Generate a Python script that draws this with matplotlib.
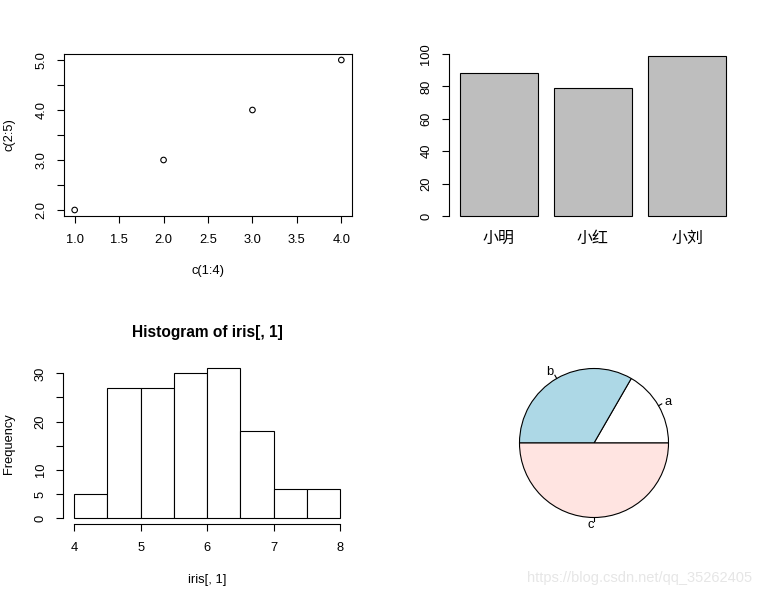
import matplotlib
matplotlib.use('Agg')
import matplotlib.pyplot as plt
import numpy as np

plt.rcParams['font.family'] = ['Liberation Sans', 'Noto Sans CJK SC', 'DejaVu Sans']
plt.rcParams['axes.linewidth'] = 0.8

# data
scatter_x = [1, 2, 3, 4]
scatter_y = [2, 3, 4, 5]

bar_names = ['小明', '小红', '小刘']
bar_values = [88, 79, 99]

hist_edges = [4.0, 4.5, 5.0, 5.5, 6.0, 6.5, 7.0, 7.5, 8.0]
hist_counts = [5, 27, 27, 30, 31, 18, 6, 6]

pie_values = [1, 2, 3]
pie_labels = ['a', 'b', 'c']
pie_colors = ['white', '#ADD8E6', '#FFE4E1']

W, H = 762, 596
fig = plt.figure(figsize=(W / 100, H / 100), dpi=100)


def px_axes(x0, y0, x1, y1):
    # pixel box (top-left origin) -> figure axes
    return fig.add_axes([x0 / W, 1 - y1 / H, (x1 - x0) / W, (y1 - y0) / H])


fs = 9.3
tick_kw = dict(direction='out', length=5, width=0.8, labelsize=fs, pad=8)

# ---- panel 1: scatter
ax1 = px_axes(64, 54, 352, 216)
ax1.scatter(scatter_x, scatter_y, s=16, facecolors='none', edgecolors='black', linewidths=0.8)
ax1.set_xlim(0.88, 4.12)
ax1.set_ylim(1.88, 5.12)
ax1.set_xticks(np.arange(1.0, 4.01, 0.5))
ax1.set_xticklabels(['1.0', '1.5', '2.0', '2.5', '3.0', '3.5', '4.0'])
yt = np.arange(2.0, 5.01, 0.5)
ax1.set_yticks(yt)
ax1.set_yticklabels(['2.0', '', '3.0', '', '4.0', '', '5.0'])
ax1.tick_params(**tick_kw)
ax1.tick_params(axis='y', labelrotation=90, pad=7)
for t in ax1.get_yticklabels():
    t.set_va('center')
ax1.set_xlabel('c(1:4)', fontsize=fs, labelpad=14)
ax1.set_ylabel('c(2:5)', fontsize=fs, labelpad=14)

# ---- panel 2: barplot
ax2 = px_axes(449, 54, 737, 216)
bar_x = 0.2 + np.arange(len(bar_values)) * 1.2
ax2.bar(bar_x, bar_values, width=1.0, align='edge', color='#BEBEBE',
        edgecolor='black', linewidth=0.8)
ax2.set_xlim(0.2 - 0.136, 3.6 + 0.136)
ax2.set_ylim(0, 100)
ax2.set_yticks([0, 20, 40, 60, 80, 100])
ax2.set_xticks(bar_x + 0.5)
ax2.set_xticklabels(bar_names)
ax2.tick_params(**tick_kw)
ax2.tick_params(axis='x', length=0, pad=11, labelsize=11.5)
ax2.tick_params(axis='y', labelrotation=90, pad=7)
for t in ax2.get_yticklabels():
    t.set_va('center')
for s in ['top', 'right', 'bottom']:
    ax2.spines[s].set_visible(False)
ax2.spines['left'].set_bounds(0, 100)
for b in ax2.patches:
    b.set_clip_on(False)

# ---- panel 3: histogram
ax3 = px_axes(63.4, 362.5, 351, 524.3)
ax3.hist(hist_edges[:-1], bins=hist_edges, weights=hist_counts,
         color='white', edgecolor='black', linewidth=0.8)
ax3.set_xlim(3.84, 8.16)
ax3.set_ylim(-1.24, 32.24)
ax3.set_xticks([4, 5, 6, 7, 8])
ax3.set_yticks([0, 5, 10, 15, 20, 25, 30])
ax3.set_yticklabels(['0', '5', '10', '', '20', '', '30'])
ax3.tick_params(**tick_kw)
ax3.tick_params(axis='y', labelrotation=90, pad=7)
for t in ax3.get_yticklabels():
    t.set_va('center')
for s in ['top', 'right']:
    ax3.spines[s].set_visible(False)
ax3.spines['left'].set_bounds(0, 30)
ax3.spines['bottom'].set_bounds(4, 8)
ax3.set_xlabel('iris[, 1]', fontsize=fs, labelpad=14)
ax3.set_ylabel('Frequency', fontsize=fs, labelpad=14)
ax3.set_title('Histogram of iris[, 1]', fontsize=11.2, fontweight='bold', pad=18)

# ---- panel 4: pie
cx, cy, r = 594, 443, 74.5
ax4 = px_axes(cx - 110, cy - 110, cx + 110, cy + 110)
ax4.pie(pie_values, colors=pie_colors, startangle=0, counterclock=True, radius=1,
        wedgeprops=dict(edgecolor='black', linewidth=0.8))
lim = 110 / r
ax4.set_xlim(-lim, lim)
ax4.set_ylim(-lim, lim)
ax4.set_aspect('equal')
cum = np.cumsum([0] + pie_values) / sum(pie_values)
for i, lab in enumerate(pie_labels):
    ang = 2 * np.pi * (cum[i] + cum[i + 1]) / 2
    px, py = np.cos(ang), np.sin(ang)
    ax4.plot([px, 1.05 * px], [py, 1.05 * py], color='black', lw=0.8)
    ax4.text(1.1 * px, 1.1 * py, lab, fontsize=fs,
             ha='right' if px < 0 else 'left', va='center')
ax4.axis('off')

fig.text(752 / W, 1 - 578 / H, 'https://blog.csdn.net/qq_35262405',
         fontsize=10.5, color='#E6E6E6', ha='right', va='center')

fig.savefig('out.png', dpi=100)
